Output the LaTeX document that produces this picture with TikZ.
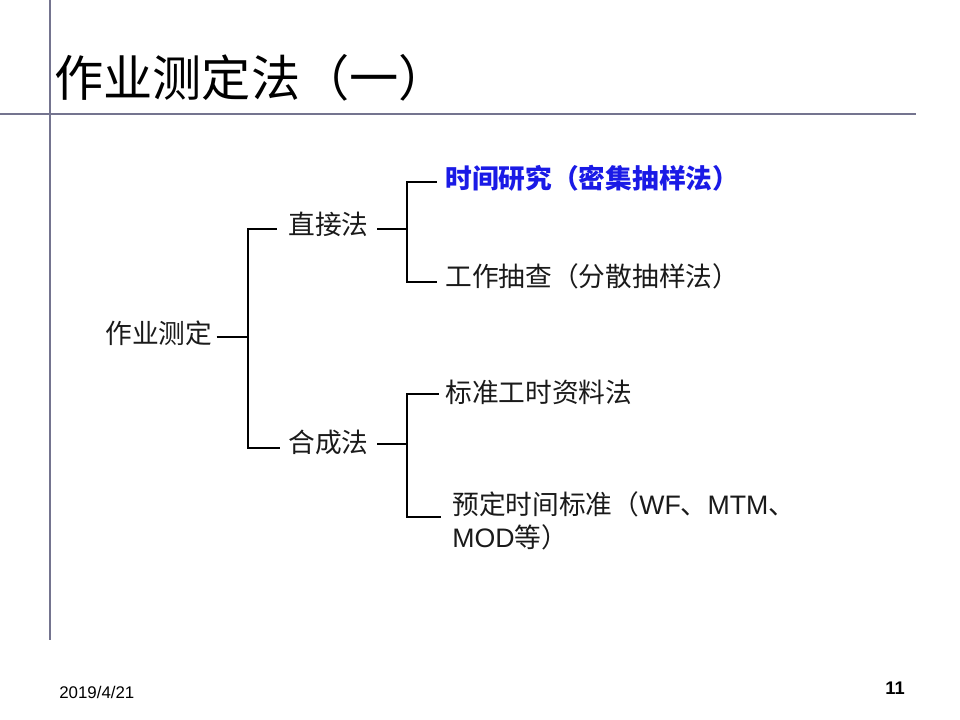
\documentclass[tikz,border=0pt]{standalone}
\usepackage{fontspec}
\setmainfont{Liberation Sans}
\newfontfamily\cjk{Noto Sans CJK SC}
\usetikzlibrary{positioning, calc}
\definecolor{cframe}{HTML}{74748F}
\definecolor{cblue}{HTML}{1A1AE6}
\definecolor{cink}{HTML}{1A1A1A}
\tikzset{
  every picture/.style={x=0.025cm, y=-0.025cm},
  frame/.style={draw=cframe, line width=1.1pt},
  branch/.style={draw=black, line width=0.9pt},
  leaf/.style={anchor=west, inner sep=0pt, text=cink, font=\cjk\fontsize{19}{23}\selectfont},
  title/.style={anchor=west, inner sep=0pt, font=\cjk\fontsize{35}{40}\selectfont},
  foot/.style={inner sep=0pt, font=\fontsize{12}{14}\selectfont},
}

\begin{document}
\begin{tikzpicture}
  \fill[white] (0,0) rectangle (960,720);
  \useasboundingbox (0,0) rectangle (960,720);
  % ---- slide frame
  \draw[frame] (50,0) -- (50,640);
  \draw[frame] (0,114) -- (916,114);
  \node[title] (head) at (54,78) {作业测定法（一）};
  % ---- tree
  \node[leaf] (root) at (105,333) {作业测定};
  \node[leaf] (direct) at (288,224) {直接法};
  \node[leaf] (synth) at (288,442) {合成法};
  \node[leaf, text=cblue, font=\cjk\bfseries\fontsize{19}{23}\selectfont] (timestudy) at (445,178) {时间研究（密集抽样法）};
  \node[leaf] (sampling) at (445,276) {工作抽查（分散抽样法）};
  \node[leaf] (stddata) at (445,392) {标准工时资料法};
  \node[leaf, align=left] (pts) at (452,521) {预定时间标准（\textrm{WF}、\textrm{MTM}、\\\textrm{MOD}等）};
  \coordinate (j0) at (248,337);
  \coordinate (j1) at (407,229);
  \coordinate (j2) at (407,444);
  \draw[branch] ([xshift=3pt]root.east |- j0) -- (j0);
  \draw[branch] (j0) |- ([xshift=-8pt]direct.west |- 0,229);
  \draw[branch] (j0) |- ([xshift=-6pt]synth.west |- 0,448);
  \draw[branch] ([xshift=6pt]direct.east |- j1) -- (j1);
  \draw[branch] (j1) |- ([xshift=-6pt]timestudy.west |- 0,182);
  \draw[branch] (j1) |- ([xshift=-6pt]sampling.west |- 0,282);
  \draw[branch] ([xshift=6pt]synth.east |- j2) -- (j2);
  \draw[branch] (j2) |- ([xshift=-4pt]stddata.west |- 0,394);
  \draw[branch] (j2) |- ([xshift=-8pt]pts.west |- 0,517);
  % ---- footer
  \node[foot, anchor=west] (date) at (59,692) {2019/4/21};
  \node[foot, anchor=east, font=\bfseries\fontsize{13}{15}\selectfont] (page) at (905,688) {11};
\end{tikzpicture}
\end{document}
